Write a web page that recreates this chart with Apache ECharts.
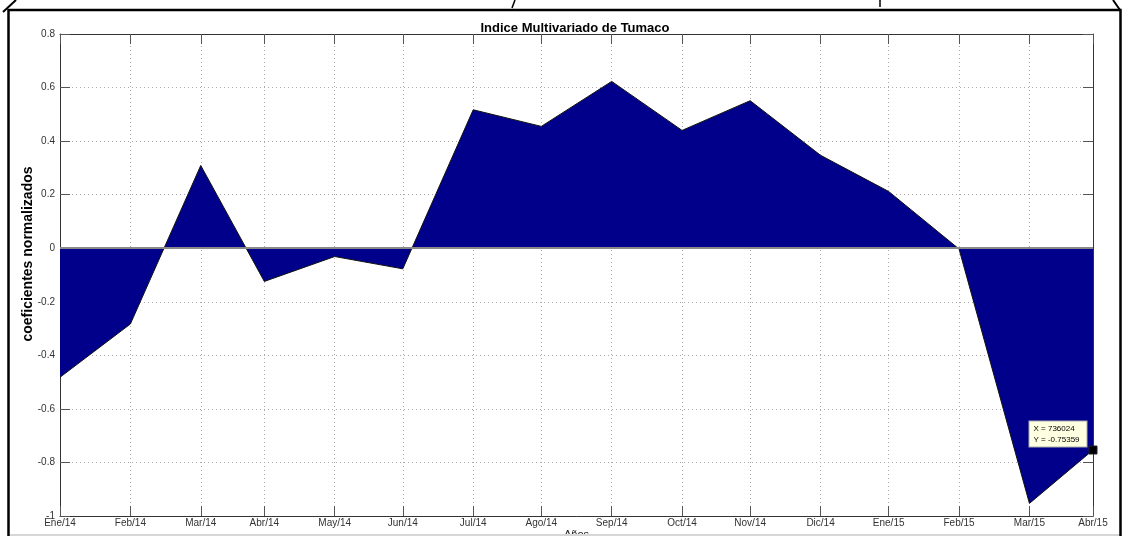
<!DOCTYPE html>
<html>
<head>
<meta charset="utf-8">
<title>Indice Multivariado de Tumaco</title>
<script src="https://cdn.jsdelivr.net/npm/echarts@6/dist/echarts.min.js"></script>
<style>
  html, body { margin: 0; padding: 0; background: #fff; }
  #chart { width: 1124px; height: 536px; }
</style>
</head>
<body>
<div id="chart"></div>
<script>
// Month boundaries as serial day numbers (datenum style), one per tick
const xDates = [735569, 735600, 735631, 735659, 735690, 735720, 735751, 735781,
                735812, 735843, 735873, 735904, 735934, 735965, 735996, 736024];
const tickLabels = ['Ene/14', 'Feb/14', 'Mar/14', 'Abr/14', 'May/14', 'Jun/14', 'Jul/14', 'Ago/14',
                    'Sep/14', 'Oct/14', 'Nov/14', 'Dic/14', 'Ene/15', 'Feb/15', 'Mar/15', 'Abr/15'];
// Normalized index coefficients
const values = [-0.482, -0.283, 0.309, -0.124, -0.031, -0.077, 0.517, 0.455,
                0.623, 0.44, 0.551, 0.347, 0.212, -0.003, -0.953, -0.75359];

const yMin = -1, yMax = 0.8, yStep = 0.2;
const FONT = '"Liberation Sans", Arial, Helvetica, sans-serif';

const seriesData = xDates.map((x, i) => [x, values[i]]);
const last = xDates.length - 1;

const chart = echarts.init(document.getElementById('chart'), null, { renderer: 'canvas' });

const gridLine = { show: true, lineStyle: { color: '#aaa', type: [1, 3], width: 1 } };
const axisLineStyle = { show: true, onZero: false, lineStyle: { color: '#333', width: 1 } };
const tickStyle = { show: true, inside: true, length: 10, lineStyle: { color: '#555', width: 1 } };

chart.setOption({
  animation: false,
  backgroundColor: '#fff',
  title: {
    text: 'Indice Multivariado de Tumaco',
    left: 570, top: 17, textAlign: 'center',
    textStyle: { fontFamily: FONT, fontSize: 13, fontWeight: 'bold', color: '#000' }
  },
  grid: { left: 60, right: 31, top: 34, bottom: 20, containLabel: false, outerBoundsMode: 'none' },
  xAxis: [{
    type: 'value',
    min: xDates[0], max: xDates[last],
    position: 'bottom',
    name: 'Años', nameLocation: 'middle', nameGap: 13, nameMoveOverlap: false,
    nameTextStyle: { fontFamily: FONT, fontSize: 11, color: '#222', verticalAlign: 'top' },
    axisLine: axisLineStyle,
    axisTick: Object.assign({ customValues: xDates }, tickStyle),
    axisLabel: {
      customValues: xDates, margin: 2,
      fontFamily: FONT, fontSize: 10, color: '#333',
      formatter: v => { const i = xDates.indexOf(v); return i >= 0 ? tickLabels[i] : ''; }
    },
    splitLine: gridLine
  }, {
    type: 'value',
    min: xDates[0], max: xDates[last],
    position: 'top',
    axisLine: axisLineStyle,
    axisTick: Object.assign({ customValues: xDates }, tickStyle),
    axisLabel: { show: false },
    splitLine: { show: false }
  }],
  yAxis: [{
    type: 'value',
    min: yMin, max: yMax, interval: yStep,
    position: 'left',
    name: 'coeficientes normalizados', nameLocation: 'middle', nameGap: 25, nameMoveOverlap: false,
    nameTextStyle: {
      fontFamily: FONT, fontSize: 14, fontWeight: 'bold', color: '#000',
      padding: [0, 0, 0, 42]
    },
    axisLine: axisLineStyle,
    axisTick: tickStyle,
    axisLabel: {
      margin: 5, fontFamily: FONT, fontSize: 10, color: '#333',
      formatter: v => String(Math.round(v * 10) / 10)
    },
    splitLine: gridLine
  }, {
    type: 'value',
    min: yMin, max: yMax, interval: yStep,
    position: 'right',
    axisLine: axisLineStyle,
    axisTick: tickStyle,
    axisLabel: { show: false },
    splitLine: { show: false }
  }],
  series: [{
    type: 'line',
    xAxisIndex: 0, yAxisIndex: 0,
    data: seriesData,
    showSymbol: false,
    symbol: 'none',
    lineStyle: { color: '#111', width: 1 },
    areaStyle: { color: '#00008B', opacity: 1, origin: 0 },
    z: 3,
    markLine: {
      silent: true,
      symbol: ['none', 'none'],
      label: { show: false },
      lineStyle: { color: '#888', width: 2, type: 'solid' },
      data: [{ yAxis: 0 }]
    },
    markPoint: {
      silent: true,
      data: [{
        coord: [xDates[last], values[last]],
        symbol: 'rect', symbolSize: 8,
        itemStyle: { color: '#000', borderColor: '#222', borderWidth: 1 },
        label: {
          show: true,
          position: [-59, -24],
          align: 'left', verticalAlign: 'top',
          formatter: 'X = ' + xDates[last] + '\nY = ' + values[last],
          fontFamily: FONT, fontSize: 8, lineHeight: 11, color: '#000',
          backgroundColor: '#ffffe1', borderColor: '#aaa', borderWidth: 1,
          padding: [2, 4, 1, 4], width: 49
        }
      }]
    }
  }],
  graphic: [
    // surrounding frame
    { type: 'rect', z: 100, silent: true,
      shape: { x: 8.5, y: 10, width: 1112, height: 540 },
      style: { fill: 'none', stroke: '#000', lineWidth: 2.5 } },
    // light strip along the bottom edge
    { type: 'rect', z: 99, silent: true,
      shape: { x: 10, y: 534, width: 1110, height: 2 },
      style: { fill: '#d6d6d6' } },
    // small strokes above the frame
    { type: 'line', z: 100, silent: true, shape: { x1: 16, y1: 0, x2: 3, y2: 12 },
      style: { stroke: '#000', lineWidth: 2 } },
    { type: 'line', z: 100, silent: true, shape: { x1: 515, y1: 0, x2: 512, y2: 8 },
      style: { stroke: '#000', lineWidth: 1.5 } },
    { type: 'line', z: 100, silent: true, shape: { x1: 880, y1: 0, x2: 880, y2: 7 },
      style: { stroke: '#000', lineWidth: 1.5 } },
    { type: 'line', z: 100, silent: true, shape: { x1: 1113, y1: 0, x2: 1120, y2: 10 },
      style: { stroke: '#000', lineWidth: 2 } }
  ]
});
</script>
</body>
</html>
